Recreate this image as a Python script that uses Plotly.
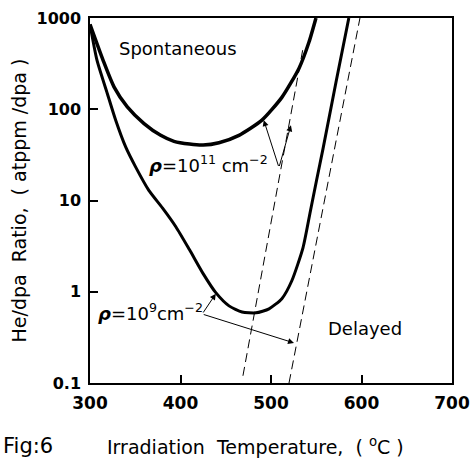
import numpy as np
import plotly.graph_objects as go

# Upper curve: rho = 1e11 cm^-2
upper_T = [300, 314.4, 326.5, 341.2, 359.7, 378.1, 392.8, 410, 425, 442.5, 464.6, 490, 512, 531, 542, 549.7]
upper_v = [850, 345, 176, 106, 69.7, 51.8, 44.5, 41.5, 40.5, 43, 51.8, 76, 135, 282, 545, 1000]

# Lower curve: rho = 1e9 cm^-2
lower_T = [300, 307.7, 319.1, 328.4, 339.4, 350.5, 365, 380, 395, 410, 425, 439,
           453.6, 468, 483.4, 497.8, 512, 523, 535.4, 543, 550.3, 557.5, 571.8, 586]
lower_v = [850, 345, 149, 75.7, 38.6, 23.2, 12.9, 8.3, 5.13, 2.88, 1.58, 0.977,
           0.70, 0.60, 0.587, 0.65, 0.84, 1.32, 3.05, 7.2, 16.6, 37, 198, 1000]

# Dashed boundary lines
dash1_T = [469, 535]
dash1_v = [0.12, 445]
dash2_T = [519.9, 598.3]
dash2_v = [0.1, 1000]

x_ticks = [300, 400, 500, 600, 700]
y_ticks = [0.1, 1, 10, 100, 1000]
y_ticklabels = ["0.1", "1", "10", "100", "1000"]

FONT = "DejaVu Sans"

fig = go.Figure()
fig.add_trace(go.Scatter(x=upper_T, y=upper_v, mode="lines",
                         line=dict(color="black", width=3.5, shape="spline", smoothing=0.6)))
fig.add_trace(go.Scatter(x=lower_T, y=lower_v, mode="lines",
                         line=dict(color="black", width=3, shape="spline", smoothing=0.6)))
fig.add_trace(go.Scatter(x=dash1_T, y=dash1_v, mode="lines",
                         line=dict(color="black", width=1, dash="9px,5px")))
fig.add_trace(go.Scatter(x=dash2_T, y=dash2_v, mode="lines",
                         line=dict(color="black", width=1, dash="9px,5px")))

L = np.log10
ann = []
# arrows rho=1e11
for hx, hy in [(492, 76), (522, 66.7)]:
    ann.append(dict(x=hx, y=L(hy), ax=508.8, ay=L(23), xref="x", yref="y", axref="x", ayref="y",
                    showarrow=True, arrowhead=2, arrowsize=1.2, arrowwidth=1, arrowcolor="black", text=""))
# arrows rho=1e9
for hx, hy in [(439, 0.95), (525.4, 0.275)]:
    ann.append(dict(x=hx, y=L(hy), ax=424, ay=L(0.57), xref="x", yref="y", axref="x", ayref="y",
                    showarrow=True, arrowhead=2, arrowsize=1.2, arrowwidth=1, arrowcolor="black", text=""))

ann.append(dict(x=363, y=1.40, xref="x", yref="y", xanchor="left", yanchor="middle", showarrow=False,
                text="<b><i>ρ</i></b>=10<sup>11</sup> cm<sup>−2</sup>",
                font=dict(family=FONT, size=18, color="black")))
ann.append(dict(x=306.6, y=-0.22, xref="x", yref="y", xanchor="left", yanchor="middle", showarrow=False,
                text="<b><i>ρ</i></b>=10<sup>9</sup>cm<sup>−2</sup>",
                font=dict(family=FONT, size=18, color="black")))
ann.append(dict(x=397, y=2.67, xref="x", yref="y", xanchor="center", yanchor="middle", showarrow=False,
                text="Spontaneous", font=dict(family=FONT, size=18, color="black")))
ann.append(dict(x=604, y=-0.407, xref="x", yref="y", xanchor="center", yanchor="middle", showarrow=False,
                text="Delayed", font=dict(family=FONT, size=18, color="black")))

# axis titles & figure label (paper coords; plot area x 90..452, y 18..383)
ann.append(dict(x=(255 - 90) / 362, y=(383 - 446) / 365, xref="paper", yref="paper", showarrow=False,
                xanchor="center", yanchor="middle",
                text="Irradiation  Temperature,  ( <sup>o</sup>C )",
                font=dict(family=FONT, size=19, color="black")))
ann.append(dict(x=(28 - 90) / 362, y=(383 - 446) / 365, xref="paper", yref="paper", showarrow=False,
                xanchor="center", yanchor="middle",
                text="Fig:6", font=dict(family=FONT, size=21, color="black")))
ann.append(dict(x=(18 - 90) / 362, y=0.5, xref="paper", yref="paper", showarrow=False, textangle=-90,
                xanchor="center", yanchor="middle",
                text="He/dpa  Ratio,  ( atppm /dpa )",
                font=dict(family=FONT, size=19, color="black")))

fig.update_layout(
    width=474, height=459,
    margin=dict(l=90, r=22, t=18, b=76),
    paper_bgcolor="white", plot_bgcolor="white",
    showlegend=False,
    annotations=ann,
    xaxis=dict(range=[300, 700], tickvals=x_ticks, ticks="inside", ticklen=8, tickwidth=1.5,
               tickcolor="black", showline=True, linecolor="black", linewidth=1.5, mirror=True,
               showgrid=False, zeroline=False, ticklabelstandoff=4, automargin=False,
               tickfont=dict(family=FONT, size=17, color="black", weight="bold")),
    yaxis=dict(type="log", range=[-1, 3], tickvals=y_ticks, ticktext=y_ticklabels, ticks="inside",
               ticklen=8, tickwidth=1.5, tickcolor="black", showline=True, linecolor="black",
               linewidth=1.5, mirror=True, showgrid=False, zeroline=False, ticklabelstandoff=4,
               automargin=False,
               tickfont=dict(family=FONT, size=16, color="black", weight="bold")),
)

fig.write_html("out.html", config={"displayModeBar": False},
               post_script="document.body.style.margin='0px';")
